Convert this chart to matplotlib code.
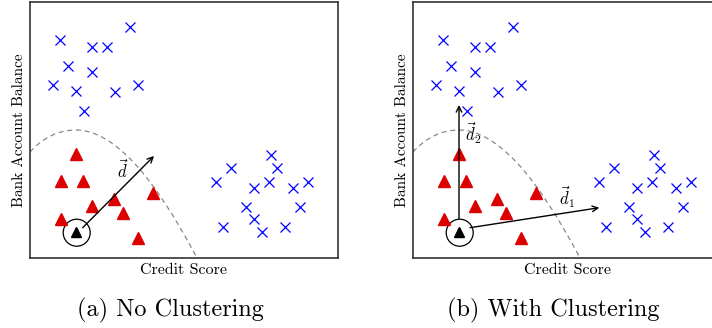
import matplotlib.pyplot as plt
from matplotlib.path import Path
from matplotlib.patches import PathPatch, Circle

plt.rcParams['font.family'] = ['cmr10', 'DejaVu Serif']
plt.rcParams['mathtext.fontset'] = 'cm'
plt.rcParams['axes.unicode_minus'] = False

# points (credit score, balance) in panel units
blue_x = [100, 30, 61.7, 76.7, 38.3, 61.7, 22.7, 46, 85, 108.3, 54.3,
          240.7, 200.7, 247.3, 186, 239.3, 278.3, 224, 262.7, 216, 270,
          224, 193.3, 255, 232.3]
blue_y = [231.3, 218, 211.3, 211.3, 192.3, 186.3, 173, 167, 166.3, 173, 147.3,
          103, 89.7, 89.7, 76.3, 76.3, 76.3, 70.3, 70.3, 51.3, 51.3,
          38.7, 31.3, 31.3, 25.7]
red_x = [46, 30.7, 52.7, 123.3, 84.3, 61.7, 92.7, 30.7, 108.3]
red_y = [104, 77.3, 77.3, 65.3, 58.7, 52.3, 44.7, 39, 20]
query = (46, 26)

# dashed boundary (bezier control points)
boundary = [(0, 106), (20, 128), (46, 128), (100, 128), (167, 0)]

titles = ['(a) No Clustering', '(b) With Clustering']
title_x = [170, 553]
panel_left = [30, 413]
W, H = 712, 328
pw, ph = 308, 256


def draw_base(ax):
    ax.set_xlim(0, pw)
    ax.set_ylim(0, ph)
    ax.set_xticks([])
    ax.set_yticks([])
    for s in ax.spines.values():
        s.set_color('#333333')
        s.set_linewidth(1.2)
    ax.set_xlabel('Credit Score', fontsize=11.5)
    ax.set_ylabel('Bank Account Balance', fontsize=11)
    ax.xaxis.set_label_coords(0.5, -12 / ph)
    ax.yaxis.set_label_coords(-11 / pw, 0.5)
    ax.xaxis.label.set_va('center')
    ax.yaxis.label.set_va('center')
    codes = [Path.MOVETO, Path.CURVE3, Path.CURVE3, Path.CURVE3, Path.CURVE3]
    ax.add_patch(PathPatch(Path(boundary, codes), fill=False, ls=(0, (4, 3)),
                           color='#888888', lw=0.9))
    ax.plot(blue_x, blue_y, 'x', color='#0000ff', ms=6.5, mew=0.9)
    ax.plot(red_x, red_y, '^', color='#dd0000', ms=8.5)
    ax.plot(*query, '^', color='black', ms=7)
    ax.add_patch(Circle((query[0] + 0.7, query[1] - 0.7), 13.5, fill=False,
                        color='black', lw=0.9))


fig = plt.figure(figsize=(W / 100, H / 100), dpi=100)
axes = []
for i, left in enumerate(panel_left):
    ax = fig.add_axes([left / W, 1 - 258 / H, pw / W, ph / H])
    draw_base(ax)
    axes.append(ax)

arrow = dict(arrowstyle='->', color='black', lw=1.0, shrinkA=0, shrinkB=0)
a, b = axes
a.annotate('', xy=(124, 102), xytext=(52.7, 30.3), arrowprops=arrow)
a.text(93, 88, r'$\vec{d}$', fontsize=12, ha='center', va='center')

b.annotate('', xy=(46, 153), xytext=(46, 39.5), arrowprops=arrow)
b.text(60, 125, r'$\vec{d}_2$', fontsize=12, ha='center', va='center')
b.annotate('', xy=(186.3, 50.3), xytext=(57, 30.3), arrowprops=arrow)
b.text(154, 61, r'$\vec{d}_1$', fontsize=12, ha='center', va='center')

for t, x in zip(titles, title_x):
    fig.text(x / W, 1 - 310 / H, t, fontsize=17.5, ha='center', va='center')

fig.savefig('out.png', dpi=100)
